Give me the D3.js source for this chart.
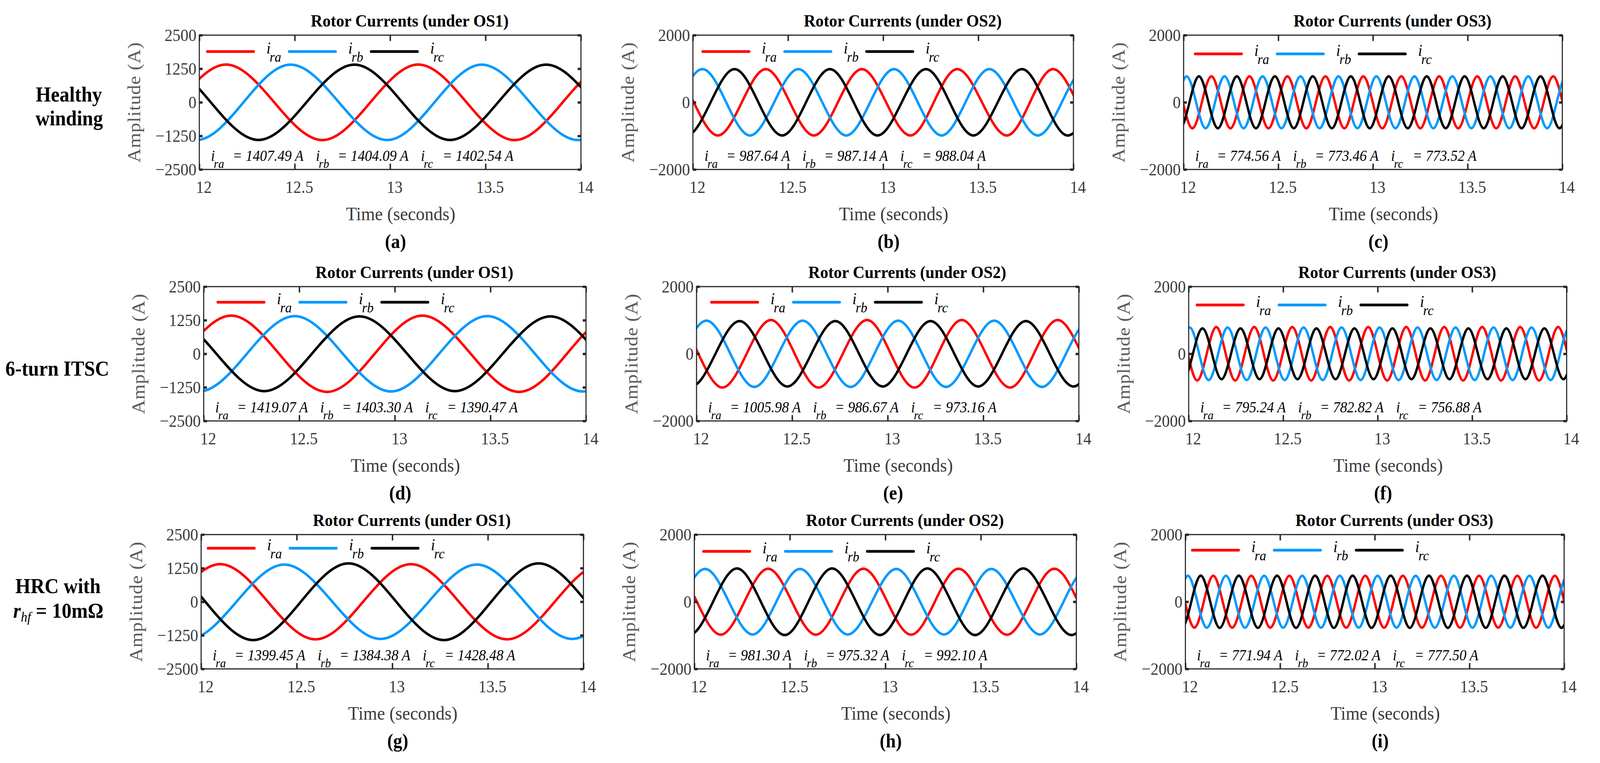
<!DOCTYPE html>
<meta charset="utf-8">

<!-- Load d3.js -->
<script src="https://d3js.org/d3.v7.min.js"></script>

<style>
  html, body { margin: 0; padding: 0; background: #fff; overflow: hidden; }
  svg { display: block; }
  text { font-family: "Liberation Serif", "Times New Roman", serif; }
</style>

<!-- Create a div where the graph will take place -->
<div id="my_dataviz"></div>

<script>

    // ---------- data ----------

    // peak values of i_ra, i_rb, i_rc per panel (also printed in the panel)
    var ampA = [1407.49, 1404.09, 1402.54];
    var ampB = [987.64, 987.14, 988.04];
    var ampC = [774.56, 773.46, 773.52];
    var ampD = [1419.07, 1403.30, 1390.47];
    var ampE = [1005.98, 986.67, 973.16];
    var ampF = [795.24, 782.82, 756.88];
    var ampG = [1399.45, 1384.38, 1428.48];
    var ampH = [981.30, 975.32, 992.10];
    var ampI = [771.94, 772.02, 777.50];

    // times (s) of the positive peaks and of the troughs, [i_ra, i_rb, i_rc]
    var peaksA = [[12.140, 13.148, 14.156], [12.478, 13.480, 14.488], [11.810, 12.813, 13.818]];
    var troughsA = [[11.637, 12.645, 13.653], [11.985, 12.985, 13.985], [12.310, 13.314, 14.320]];

    var peaksB = [[11.878, 12.383, 12.888, 13.389, 13.893], [12.050, 12.554, 13.057, 13.558, 14.065], [12.219, 12.720, 13.225, 13.730, 14.225]];
    var troughsB = [[12.131, 12.636, 13.143, 13.650, 14.145], [11.798, 12.300, 12.806, 13.307, 13.813], [11.967, 12.469, 12.970, 13.474, 13.970]];

    var peaksC = [
      [11.946, 12.147, 12.348, 12.548, 12.749, 12.949, 13.150, 13.350, 13.551, 13.751, 13.952],
      [12.016, 12.216, 12.417, 12.617, 12.818, 13.018, 13.219, 13.419, 13.620, 13.820, 14.021],
      [12.081, 12.281, 12.482, 12.682, 12.883, 13.083, 13.284, 13.484, 13.685, 13.885, 14.086]];
    var troughsC = [
      [12.046, 12.247, 12.448, 12.648, 12.849, 13.049, 13.250, 13.450, 13.651, 13.851, 14.052],
      [11.916, 12.116, 12.317, 12.517, 12.718, 12.918, 13.119, 13.319, 13.520, 13.720, 13.920],
      [11.981, 12.181, 12.382, 12.582, 12.783, 12.983, 13.184, 13.384, 13.585, 13.785, 13.985]];

    var peaksD = [[12.144, 13.144, 14.150], [12.476, 13.483, 14.485], [11.816, 12.815, 13.814]];
    var troughsD = [[11.643, 12.645, 13.650], [11.976, 12.980, 13.983], [12.317, 13.314, 14.315]];

    var peaksE = [[11.884, 12.389, 12.892, 13.387, 13.889], [12.052, 12.555, 13.055, 13.557, 14.058], [12.225, 12.726, 13.224, 13.723, 14.223]];
    var troughsE = [[12.135, 12.638, 13.140, 13.640, 14.140], [11.800, 12.302, 12.806, 13.305, 13.807], [11.973, 12.475, 12.974, 13.473, 13.972]];

    var peaksF = [
      [11.945, 12.146, 12.347, 12.548, 12.749, 12.950, 13.151, 13.352, 13.553, 13.754, 13.955],
      [12.005, 12.206, 12.407, 12.608, 12.809, 13.010, 13.211, 13.412, 13.613, 13.814, 14.015],
      [12.073, 12.274, 12.475, 12.676, 12.877, 13.078, 13.279, 13.480, 13.681, 13.882, 14.083]];
    var troughsF = [
      [12.045, 12.246, 12.447, 12.648, 12.849, 13.050, 13.251, 13.452, 13.653, 13.854, 14.055],
      [11.905, 12.106, 12.307, 12.508, 12.709, 12.910, 13.111, 13.312, 13.513, 13.714, 13.915],
      [11.972, 12.174, 12.375, 12.576, 12.777, 12.978, 13.179, 13.380, 13.581, 13.782, 13.983]];

    var peaksG = [[12.100, 13.097, 14.100], [12.435, 13.442, 14.440], [11.772, 12.771, 13.765]];
    var troughsG = [[11.600, 12.598, 13.600], [11.935, 12.938, 13.941], [12.272, 13.270, 14.265]];

    var peaksH = [[11.888, 12.386, 12.885, 13.383, 13.885], [12.056, 12.553, 13.057, 13.555, 14.057], [12.223, 12.721, 13.220, 13.722, 14.222]];
    var troughsH = [[12.138, 12.636, 13.135, 13.637, 14.135], [11.806, 12.305, 12.803, 13.307, 13.809], [11.973, 12.473, 12.972, 13.470, 13.975]];

    var peaksI = [
      [11.947, 12.147, 12.348, 12.549, 12.749, 12.950, 13.148, 13.350, 13.551, 13.753, 13.951],
      [12.013, 12.214, 12.416, 12.617, 12.815, 13.015, 13.216, 13.418, 13.615, 13.817, 14.017],
      [12.081, 12.282, 12.484, 12.685, 12.883, 13.084, 13.286, 13.487, 13.685, 13.886, 14.086]];
    var troughsI = [
      [12.047, 12.247, 12.448, 12.649, 12.849, 13.049, 13.249, 13.450, 13.652, 13.852, 14.051],
      [11.913, 12.113, 12.315, 12.516, 12.716, 12.915, 13.115, 13.317, 13.516, 13.716, 13.917],
      [11.981, 12.181, 12.383, 12.584, 12.784, 12.983, 13.185, 13.386, 13.586, 13.785, 13.986]];

    var seriesNames = ["ra", "rb", "rc"];
    var titles = ["Rotor Currents (under OS1)", "Rotor Currents (under OS2)", "Rotor Currents (under OS3)"];
    var panelTags = ["(a)", "(b)", "(c)", "(d)", "(e)", "(f)", "(g)", "(h)", "(i)"];
    var xTicks = [12, 12.5, 13, 13.5, 14];
    var yTicksOS1 = [-2500, -1250, 0, 1250, 2500];
    var yTicksOS23 = [-2000, 0, 2000];

    // ---------- layout ----------
    var W = 4415, H = 1954;
    var colors = ["#ff0000", "#0099ff", "#000000"];
    var rowTop = [90, 734, 1369];
    var plotH = 344;
    var plotLeft = [[550, 1912, 3266], [562, 1922, 3280], [555, 1916, 3271]];
    var plotW = [[1053, 1050, 1045], [1055, 1055, 1043], [1055, 1054, 1045]];
    var legendOff = [[[19, 42], [24, 42], [29, 48]], [[36, 40], [38, 40], [20, 47]], [[16, 35], [22, 43], [16, 40]]];

    var amps = [[ampA, ampB, ampC], [ampD, ampE, ampF], [ampG, ampH, ampI]];
    var peaks = [[peaksA, peaksB, peaksC], [peaksD, peaksE, peaksF], [peaksG, peaksH, peaksI]];
    var troughs = [[troughsA, troughsB, troughsC], [troughsD, troughsE, troughsF], [troughsG, troughsH, troughsI]];

    // append the svg object to the body of the page, stretched over the whole window
    var svg = d3.select("#my_dataviz")
      .append("svg")
        .attr("viewBox", "0 0 " + W + " " + H)
        .attr("preserveAspectRatio", "none")
        .style("width", "100vw")
        .style("height", "100vh");
    svg.append("rect").attr("width", W).attr("height", H).attr("fill", "#fff");

    function fmtY(d) { return d < 0 ? "\u2212" + Math.abs(d) : String(d); }

    for (var r = 0; r < 3; r++) {
      for (var c = 0; c < 3; c++) {
        drawPanel(r, c);
      }
    }

    function drawPanel(r, c) {
      var left = plotLeft[r][c], top = rowTop[r], w = plotW[r][c], h = plotH;
      var amp = amps[r][c];
      var yMax = c == 0 ? 2500 : 2000;
      var yTicks = c == 0 ? yTicksOS1 : yTicksOS23;
      var id = "clip" + r + c;

      var x = d3.scaleLinear().domain([12, 14]).range([0, w]);
      var y = d3.scaleLinear().domain([-yMax, yMax]).range([h, 0]);

      var g = svg.append("g").attr("transform", "translate(" + left + "," + top + ")");
      g.append("clipPath").attr("id", id)
        .append("rect").attr("width", w).attr("height", h);

      // the three currents, through their read peaks and troughs
      var line = d3.line()
        .x(function(d) { return x(d[0]); })
        .y(function(d) { return y(d[1]); })
        .curve(d3.curveMonotoneX);
      for (var k = 0; k < 3; k++) {
        var pts = peaks[r][c][k].map(function(t) { return [t, amp[k]]; })
          .concat(troughs[r][c][k].map(function(t) { return [t, -amp[k]]; }))
          .sort(function(a, b) { return a[0] - b[0]; });
        // mirror one extremum past each end (outside the clip) so the edge
        // extrema get a flat tangent like the interior ones
        var n = pts.length;
        pts.unshift([2 * pts[0][0] - pts[1][0], pts[1][1]]);
        pts.push([2 * pts[n][0] - pts[n - 1][0], pts[n - 1][1]]);
        g.append("path")
          .attr("clip-path", "url(#" + id + ")")
          .attr("d", line(pts))
          .attr("fill", "none")
          .attr("stroke", colors[k])
          .attr("stroke-width", 6.5);
      }

      // axes
      var bottom = g.append("g").attr("transform", "translate(0," + h + ")")
        .call(d3.axisBottom(x).tickValues(xTicks).tickFormat(function(d) { return String(d); })
          .tickSizeInner(-15).tickSizeOuter(0).tickPadding(29));
      var topAx = g.append("g")
        .call(d3.axisTop(x).tickValues(xTicks).tickFormat("").tickSizeInner(-15).tickSizeOuter(0));
      var leftAx = g.append("g")
        .call(d3.axisLeft(y).tickValues(yTicks).tickFormat(fmtY).tickSizeInner(-9).tickSizeOuter(0).tickPadding(8));
      var rightAx = g.append("g").attr("transform", "translate(" + w + ",0)")
        .call(d3.axisRight(y).tickValues(yTicks).tickFormat("").tickSizeInner(-9).tickSizeOuter(0));

      [bottom, topAx, leftAx, rightAx].forEach(function(a) {
        a.select(".domain").remove();
        a.selectAll("line").attr("stroke", "#262626").attr("stroke-width", 4);
        a.selectAll("text").attr("fill", "#3a3a3a").style("font-size", "44px")
          .style("font-family", "'Liberation Serif', serif");
      });
      leftAx.selectAll("line").attr("stroke-width", 6);
      rightAx.selectAll("line").attr("stroke-width", 6);
      bottom.selectAll("text").attr("dx", 12);

      g.append("rect").attr("width", w).attr("height", h)
        .attr("fill", "none").attr("stroke", "#262626").attr("stroke-width", 3);

      // legend
      var lx = legendOff[r][c][0], ly = legendOff[r][c][1];
      for (var k = 0; k < 3; k++) {
        var x0 = lx + k * 226;
        g.append("line").attr("x1", x0 + 3).attr("x2", x0 + 131).attr("y1", ly).attr("y2", ly)
          .attr("stroke", colors[k]).attr("stroke-width", 7).attr("stroke-linecap", "round");
        g.append("text").attr("x", x0 + 166).attr("y", ly + 5)
          .style("font-size", "42px").style("font-style", "italic").text("i");
        g.append("text").attr("x", x0 + 175).attr("y", ly + 26)
          .style("font-size", "36px").style("font-style", "italic").text(seriesNames[k]);
      }

      // peak value annotations, laid out one after another
      var ax = 32, base = h - 22;
      for (var k = 0; k < 3; k++) {
        g.append("text").attr("x", ax).attr("y", base)
          .style("font-size", "39px").style("font-style", "italic").text("i");
        g.append("text").attr("x", ax + 8).attr("y", base + 18)
          .style("font-size", "32px").style("font-style", "italic").text(seriesNames[k]);
        var val = g.append("text").attr("x", ax + 60).attr("y", base)
          .style("font-size", "39px").style("font-style", "italic")
          .text("= " + amp[k].toFixed(2) + " A");
        ax = ax + 60 + val.node().getComputedTextLength() + 34;
      }

      // title, y label, x label, panel tag
      svg.append("text").attr("x", left + w / 2 + 54).attr("y", top - 22)
        .attr("text-anchor", "middle").style("font-size", "45px").style("font-weight", "bold")
        .text(titles[c]);
      svg.append("text")
        .attr("transform", "translate(" + (left - 163) + "," + (top + h / 2) + ") rotate(-90)")
        .attr("text-anchor", "middle").attr("fill", "#5a5a5a")
        .style("font-size", "50px").style("letter-spacing", "1px")
        .text("Amplitude (A)");
      svg.append("text").attr("x", left + w / 2 + 29).attr("y", top + h + 130)
        .attr("text-anchor", "middle").attr("fill", "#3a3a3a").style("font-size", "49px")
        .text("Time (seconds)");
      svg.append("text").attr("x", left + w / 2 + 15).attr("y", top + h + 201)
        .attr("text-anchor", "middle").style("font-size", "50px").style("font-weight", "bold")
        .text(panelTags[r * 3 + c]);
    }

    // row labels on the left
    var rowLab = svg.append("g").style("font-weight", "bold").style("font-size", "54px")
      .attr("text-anchor", "middle");
    rowLab.append("text").attr("x", 190).attr("y", 260).text("Healthy");
    rowLab.append("text").attr("x", 191).attr("y", 321).text("winding");
    rowLab.append("text").attr("x", 158).attr("y", 962).text("6-turn ITSC");
    rowLab.append("text").attr("x", 160).attr("y", 1519).text("HRC with");
    var rhf = rowLab.append("text").attr("x", 161).attr("y", 1582);
    rhf.append("tspan").style("font-style", "italic").text("r");
    rhf.append("tspan").style("font-style", "italic").style("font-weight", "normal")
      .style("font-size", "36px").attr("dy", 10).text("hf");
    rhf.append("tspan").attr("dy", -10).text(" = 10m\u03A9");

</script>
